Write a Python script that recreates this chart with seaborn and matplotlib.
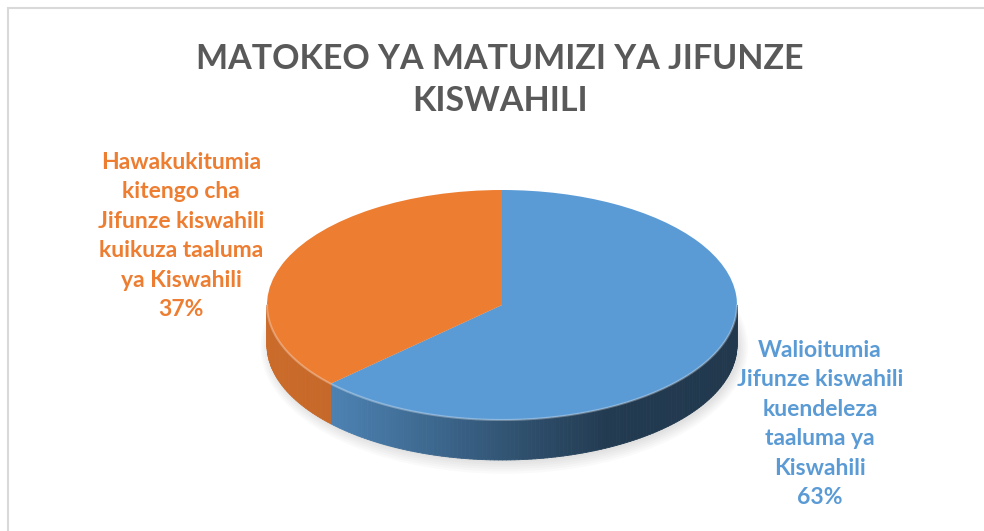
import numpy as np
import matplotlib
matplotlib.use("Agg")
import matplotlib.pyplot as plt
import matplotlib.colors as mcolors
import seaborn as sns
from matplotlib.collections import PolyCollection
from matplotlib.patches import Rectangle, Ellipse

sns.set_theme(style="white")
plt.rcParams["font.family"] = ["Lato", "DejaVu Sans"]

# Data
title = "MATOKEO YA MATUMIZI YA JIFUNZE\nKISWAHILI"
labels = [
    "Walioitumia\nJifunze kiswahili\nkuendeleza\ntaaluma ya\nKiswahili",
    "Hawakukitumia\nkitengo cha\nJifunze kiswahili\nkuikuza taaluma\nya Kiswahili",
]
shares = [63, 37]
colors = ["#5B9BD5", "#ED7D31"]

W, H = 984, 531
fig = plt.figure(figsize=(W / 100, H / 100), dpi=100)
ax = fig.add_axes([0, 0, 1, 1])

# pie geometry in pixels: centre of top face, radii and depth of the 3d side
cx, cy, rx, ry, depth = 502, 305, 235, 115, 40
h = depth / ry

wedges, _ = ax.pie(shares, colors=colors, startangle=90, counterclock=False,
                   wedgeprops=dict(linewidth=0, zorder=3))
ax.set_aspect("auto")
ax.set_xlim(-cx / rx, (W - cx) / rx)
ax.set_ylim(-(H - cy) / ry, cy / ry)
ax.axis("off")


def shade(t):
    c = np.cos(np.radians(t))
    return np.interp(c, [-1, -0.7, 0, 0.45, 1], [0.86, 0.83, 0.55, 0.38, 0.36])


# side of the 3d pie, built from the wedge angles
polys, fcs = [], []
for w, col in zip(wedges, colors):
    base = np.array(mcolors.to_rgb(col))
    for k in (-360, 0, 360):
        a, b = max(w.theta1 + k, -180), min(w.theta2 + k, 0)
        if b <= a:
            continue
        ts = np.linspace(a, b, int(b - a) + 2)
        for t0, t1 in zip(ts[:-1], ts[1:]):
            x0, y0 = np.cos(np.radians(t0)), np.sin(np.radians(t0))
            x1, y1 = np.cos(np.radians(t1)), np.sin(np.radians(t1))
            polys.append([(x0, y0), (x1, y1), (x1, y1 - h), (x0, y0 - h)])
            fcs.append(np.clip(base * shade((t0 + t1) / 2), 0, 1))
ax.add_collection(PolyCollection(polys, facecolors=fcs, edgecolors=fcs,
                                 linewidths=0.6, zorder=2))

# soft shadow under the pie
for i in range(6):
    ax.add_patch(Ellipse((0.01, -h - 0.02), 2.0 + 0.015 * i, 2.0 + 0.04 * i,
                         color="black", alpha=0.02, lw=0, zorder=1))

# light rim along the front top edge
tt = np.linspace(-180, 0, 200)
ax.plot(np.cos(np.radians(tt)), np.sin(np.radians(tt)), color="white",
        alpha=0.3, lw=1.5, zorder=4)

fig.text(500 / W, 1 - 80 / H, title, ha="center", va="center", fontsize=24.5,
         fontweight="bold", color="#595959", linespacing=1.42)

fig.text(820 / W, 1 - 424 / H, f"{labels[0]}\n{shares[0]}%", ha="center",
         va="center", multialignment="center", fontsize=16.5, fontweight="bold",
         color=colors[0], linespacing=1.5)
fig.text(181 / W, 1 - 236 / H, f"{labels[1]}\n{shares[1]}%", ha="center",
         va="center", multialignment="center", fontsize=16.5, fontweight="bold",
         color=colors[1], linespacing=1.5)

# chart frame (top and left edges visible)
fig.add_artist(Rectangle((8 / W, -0.1), 1.2, 1.1 - 8 / H, transform=fig.transFigure,
                         fill=False, edgecolor="#d9d9d9", lw=1.5))

fig.savefig("out.png", dpi=100, facecolor="white")
